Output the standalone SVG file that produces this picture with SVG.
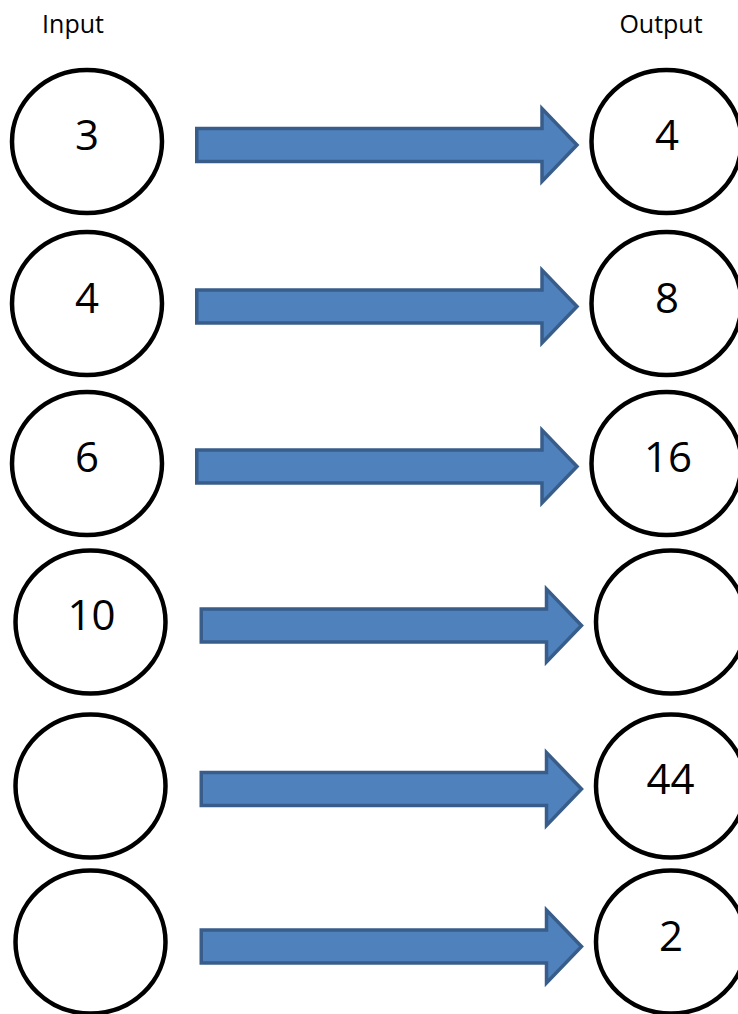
<svg xmlns="http://www.w3.org/2000/svg" xmlns:xlink="http://www.w3.org/1999/xlink" width="738" height="1014" viewBox="0 0 738 1014">
<style>
.node ellipse { fill: #ffffff; stroke: #000000; stroke-width: 4.5; }
.num { font-family: "Open Sans", "Liberation Sans", sans-serif; font-size: 42px; fill: #000000; text-anchor: middle; }
.hdr { font-family: "Open Sans", "Liberation Sans", sans-serif; font-size: 25px; fill: #000000; text-anchor: middle; }
.arrow { fill: #4F81BD; stroke: #385D8A; stroke-width: 3.5; stroke-linejoin: miter; }
</style>
<defs>
<path id="arr" class="arrow" d="M1.75,-16.5 H347 V-36.5 L382,0 L347,36.5 V16.5 H1.75 Z"/>
</defs>
<rect width="738" height="1014" fill="#ffffff"/>
<g id="headers">
<text class="hdr" x="73" y="33">Input</text>
<text class="hdr" x="661" y="33">Output</text>
</g>
<g id="connectors">
<use xlink:href="#arr" href="#arr" x="195" y="145"/>
<use xlink:href="#arr" href="#arr" x="195" y="306.5"/>
<use xlink:href="#arr" href="#arr" x="195" y="466.5"/>
<use xlink:href="#arr" href="#arr" x="199.5" y="625.5"/>
<use xlink:href="#arr" href="#arr" x="199.5" y="789"/>
<use xlink:href="#arr" href="#arr" x="199.5" y="946.5"/>
</g>
<g id="in1" class="node"><ellipse cx="87" cy="141.5" rx="75" ry="71.5"/><text class="num" x="87" y="150">3</text></g>
<g id="out1" class="node"><ellipse cx="666.5" cy="141.5" rx="75" ry="71.5"/><text class="num" x="667" y="150">4</text></g>
<g id="in2" class="node"><ellipse cx="87" cy="303.5" rx="75" ry="71.5"/><text class="num" x="87" y="313">4</text></g>
<g id="out2" class="node"><ellipse cx="666.5" cy="303.5" rx="75" ry="71.5"/><text class="num" x="667" y="313">8</text></g>
<g id="in3" class="node"><ellipse cx="87" cy="463.5" rx="75" ry="71.5"/><text class="num" x="87" y="472">6</text></g>
<g id="out3" class="node"><ellipse cx="666.5" cy="463.5" rx="75" ry="71.5"/><text class="num" x="668" y="472">16</text></g>
<g id="in4" class="node"><ellipse cx="90.5" cy="622" rx="75" ry="71.5"/><text class="num" x="91.5" y="630">10</text></g>
<g id="out4" class="node"><ellipse cx="671" cy="622" rx="75" ry="71.5"/></g>
<g id="in5" class="node"><ellipse cx="90.5" cy="786" rx="75" ry="71.5"/></g>
<g id="out5" class="node"><ellipse cx="671" cy="786" rx="75" ry="71.5"/><text class="num" x="670.5" y="794">44</text></g>
<g id="in6" class="node"><ellipse cx="90.5" cy="942" rx="75" ry="71.5"/></g>
<g id="out6" class="node"><ellipse cx="671" cy="942" rx="75" ry="71.5"/><text class="num" x="671" y="951">2</text></g>
</svg>
